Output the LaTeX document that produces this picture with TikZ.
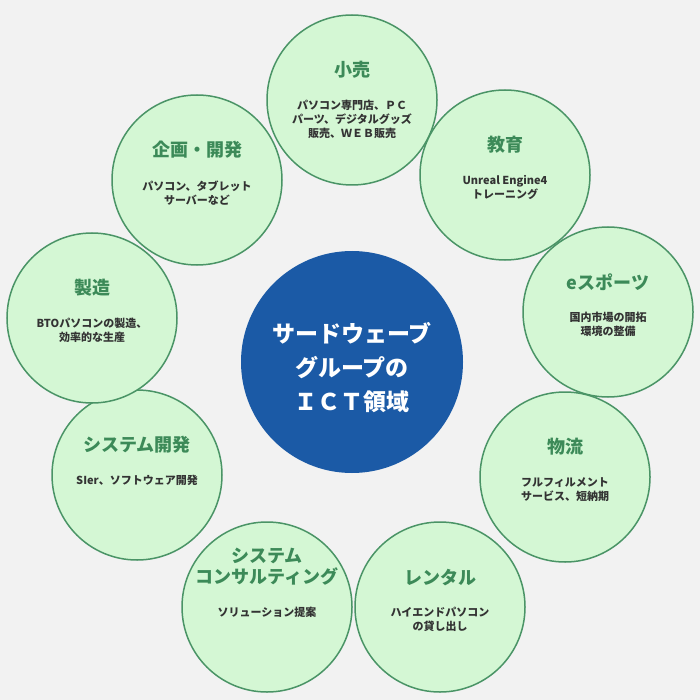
\documentclass[tikz,border=0pt]{standalone}
\usepackage{fontspec}
\setmainfont{Noto Sans CJK JP}
\begin{document}
\begin{tikzpicture}[x=1pt,y=-1pt]
\definecolor{bg}{HTML}{F2F2F2}
\definecolor{cb}{HTML}{1B5AA6}
\definecolor{cf}{HTML}{D4F7D4}
\definecolor{cd}{HTML}{4A9466}
\definecolor{ct}{HTML}{3C8A58}
\tikzset{outer/.style={circle,draw=cd,line width=1.5pt,fill=cf,minimum size=170pt,inner sep=0pt},
  ttl/.style={text=ct,font=\bfseries\fontsize{18}{21}\selectfont,align=center},
  bdy/.style={text=black!80,font=\bfseries\fontsize{11}{14}\selectfont,align=center}}
\fill[bg] (0,0) rectangle (700,700);
\useasboundingbox (0,0) rectangle (700,700);
\node[circle,fill=cb,minimum size=222pt,inner sep=0pt] (c) at (352,362) {};
\node[text=white,font=\bfseries\fontsize{23}{34}\selectfont,align=center] (ct) at (352,368) {サードウェーブ\\グループの\\ＩＣＴ領域};
\foreach \n/\x/\y/\t/\b in {
  a/352/100/小売/{パソコン専門店、ＰＣ\\パーツ、デジタルグッズ\\販売、ＷＥＢ販売},
  b/505/175/教育/{Unreal Engine4\\トレーニング},
  c2/608/312/eスポーツ/{国内市場の開拓\\環境の整備},
  d/565/477/物流/{フルフィルメント\\サービス、短納期},
  e/440/607/レンタル/{ハイエンドパソコン\\の貸し出し},
  f/267/607/{システム\\コンサルティング}/{ソリューション提案},
  g/137/475/システム開発/{SIer、ソフトウェア開発},
  h/92/318/製造/{BTOパソコンの製造、\\効率的な生産},
  i/197/180/企画・開発/{パソコン、タブレット\\サーバーなど}}
{
  \node[outer] (\n) at (\x,\y) {};
  \node[bdy,anchor=north] (\n b) at (\x,\y-3) {\b};
  \node[ttl,anchor=south] (\n t) at (\x,\y-18) {\t};
}
\end{tikzpicture}
\end{document}
